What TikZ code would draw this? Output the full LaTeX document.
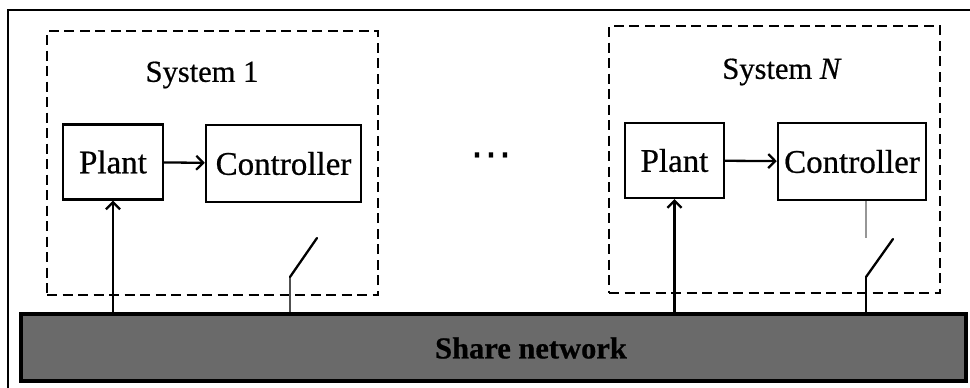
\documentclass[tikz,border=0pt]{standalone}
\usepackage{fontspec}
\setmainfont{Liberation Serif}[FakeBold=0.6]
\newfontfamily\dejavu{DejaVu Sans}
\usetikzlibrary{arrows.meta}
\tikzset{
  blk/.style={draw=black, line width=2.4pt, rectangle, inner sep=0pt, font=\fontsize{33}{38}\selectfont},
  sysbox/.style={draw=black, line width=2.6pt, dash pattern=on 10pt off 5.5pt, rectangle, inner sep=0pt},
  lbl/.style={inner sep=0pt, font=\fontsize{30.5}{36}\selectfont},
  arr/.style={line width=2.3pt, -{Straight Barb[length=7pt,width=14pt,line width=2.2pt]}},
  sw/.style={line width=2.3pt},
  frame/.style={line width=1.8pt}
}
\begin{document}
\begin{tikzpicture}[x=1pt,y=-1pt]
\useasboundingbox (0,0) rectangle (970,388);
% outer frame (top and left edges)
\coordinate (fTL) at (8,10);
\coordinate (fTR) at (970,10);
\coordinate (fBL) at (8,388);
\draw[frame] (fTR) -- (fTL) -- (fBL);
% network
\node[draw=black, line width=3.5pt, fill={rgb,255:red,106;green,106;blue,106}, minimum width=945pt, minimum height=67pt, inner sep=0pt] (net) at (493.5,347.5) {};
\node[lbl, font=\fontsize{30.5}{36}\selectfont\bfseries] (netlbl) at (531,348) {Share network};
% system 1
\node[sysbox, minimum width=331pt, minimum height=264pt] (sys1) at (212.5,163) {};
\node[lbl] (sys1lbl) at (202,75) {System 1};
\node[blk, minimum width=100pt, minimum height=75pt] (plant1) at (113,162) {Plant};
\node[blk, minimum width=155pt, minimum height=77pt] (ctrl1) at (283.5,163.5) {Controller};
\draw[arr] (plant1) -- (ctrl1);
\draw[arr] (net.north -| plant1.south) -- (plant1.south);
\coordinate (sw1a) at (290,277);
\coordinate (sw1b) at (317,238);
\draw[sw, draw={rgb,255:red,80;green,80;blue,80}] (net.north -| sw1a) -- (sw1a);
\draw[sw, line cap=round] (sw1a) -- (sw1b);
% dots
\node[inner sep=0pt, font=\fontsize{42}{48}\selectfont\dejavu] (dots) at (491,161) {⋯};
% system N
\node[sysbox, minimum width=331pt, minimum height=267pt] (sysN) at (774.5,159.5) {};
\node[lbl] (sysNlbl) at (782,72) {System \textit{N}};
\node[blk, minimum width=99pt, minimum height=75pt] (plantN) at (674.5,160.5) {Plant};
\node[blk, minimum width=148pt, minimum height=77pt] (ctrlN) at (852,161.5) {Controller};
\draw[arr] (plantN) -- (ctrlN);
\draw[arr] (net.north -| plantN.south) -- (plantN.south);
\coordinate (stubN) at (866,238);
\draw[line width=2.4pt, draw={rgb,255:red,150;green,150;blue,150}] (stubN |- ctrlN.south) -- (stubN);
\coordinate (swNa) at (866,277);
\coordinate (swNb) at (893,239);
\draw[sw] (net.north -| swNa) -- (swNa);
\draw[sw, line cap=round] (swNa) -- (swNb);
\end{tikzpicture}
\end{document}
